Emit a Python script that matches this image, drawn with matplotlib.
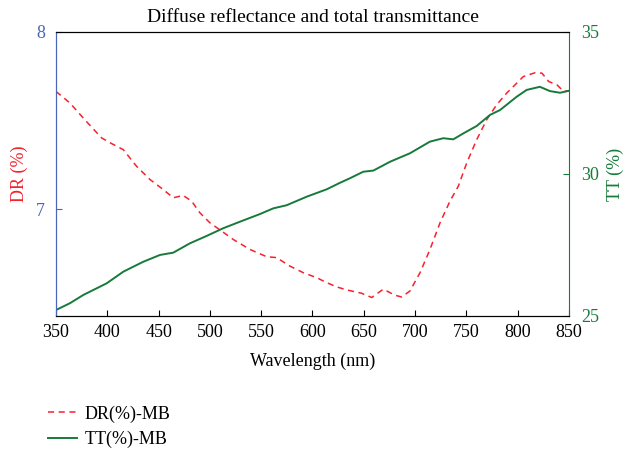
import matplotlib.pyplot as plt

plt.rcParams['font.family'] = ['Liberation Serif', 'DejaVu Serif']

# diffuse reflectance (%) read along the wavelength axis
dr_wl = [350, 363.6, 376.6, 394.5, 404.3, 415.6, 428.6, 441.6, 454.6, 464.3, 474, 482.2,
         490.3, 500, 511.5, 522.8, 539, 555.3, 565, 578, 591, 604, 613.8, 623.6, 633.3,
         647.9, 657.7, 669, 680.4, 686.9, 695, 704.8, 714.5, 724.3, 734, 742.1, 750.3,
         760, 769.8, 779.5, 789.3, 797.4, 805.5, 817.2, 823.7, 830.2, 838.3, 844.8, 850]
dr = [7.665, 7.60, 7.515, 7.403, 7.371, 7.337, 7.243, 7.169, 7.112, 7.066, 7.079, 7.047,
      6.981, 6.925, 6.878, 6.831, 6.775, 6.734, 6.729, 6.681, 6.644, 6.616, 6.588, 6.564, 6.547,
      6.528, 6.504, 6.551, 6.517, 6.507, 6.541, 6.644, 6.775, 6.925, 7.047, 7.131, 7.262,
      7.393, 7.506, 7.59, 7.656, 7.702, 7.749, 7.771, 7.768, 7.721, 7.702, 7.665, 7.67]

# total transmittance (%)
tt_wl = [350, 363.6, 376.6, 399.4, 415.6, 435.1, 451.4, 464.3, 480.6, 496.9, 513, 529.3,
         548.8, 561.8, 574.8, 594.3, 613.8, 626.8, 636.5, 649.5, 659.3, 675.5, 695, 714.5,
         727.5, 737.2, 747, 760, 773, 782.7, 799, 808.7, 821.6, 831.4, 841.2, 850]
tt = [25.21, 25.45, 25.74, 26.15, 26.56, 26.91, 27.15, 27.23, 27.56, 27.82, 28.09, 28.32,
      28.59, 28.79, 28.9, 29.2, 29.46, 29.69, 29.85, 30.08, 30.12, 30.43, 30.73, 31.14,
      31.26, 31.22, 31.43, 31.69, 32.08, 32.25, 32.72, 32.96, 33.07, 32.92, 32.86, 32.93]

red = '#f5222d'
green = '#177a3a'
blue = '#4a66b8'

fig = plt.figure(figsize=(6.27, 4.5), dpi=100)
ax = fig.add_axes([0.0893, 0.2978, 0.8182, 0.6311])
ax2 = ax.twinx()

l1, = ax.plot(dr_wl, dr, color=red, linestyle=(0, (4, 3)), linewidth=1.1, label='DR(%)-MB')
l2, = ax2.plot(tt_wl, tt, color=green, linewidth=1.4, label='TT(%)-MB')

ax.set_xlim(350, 850)
ax.set_ylim(6.4, 8)
ax2.set_ylim(25, 35)
ax.set_xticks(range(350, 851, 50))
ax.set_yticks([7, 8])
ax2.set_yticks([25, 30, 35])

ax.tick_params(axis='x', direction='in', length=4, labelsize=13, pad=6)
ax.tick_params(axis='y', direction='in', length=4, labelsize=13, colors=blue, pad=8)
ax2.tick_params(axis='y', direction='in', length=4, labelsize=13, colors=green, pad=9)

ax.spines['left'].set_color(blue)
ax2.spines['left'].set_color(blue)
ax2.spines['right'].set_color(green)
ax.spines['right'].set_visible(False)

ax.set_xlabel('Wavelength (nm)', fontsize=13, labelpad=8)
ax.set_ylabel('DR (%)', color=red, fontsize=13, labelpad=6)
ax2.set_ylabel('TT (%)', color=green, fontsize=13, labelpad=5)
ax.set_title('Diffuse reflectance and total transmittance', fontsize=14, pad=7)

fig.legend(handles=[l1, l2], loc='upper left', bbox_to_anchor=(0.062, 0.119),
           frameon=False, fontsize=13, handlelength=1.6, handletextpad=0.45,
           borderpad=0, labelspacing=0.45)

fig.savefig('out.png', dpi=100)
